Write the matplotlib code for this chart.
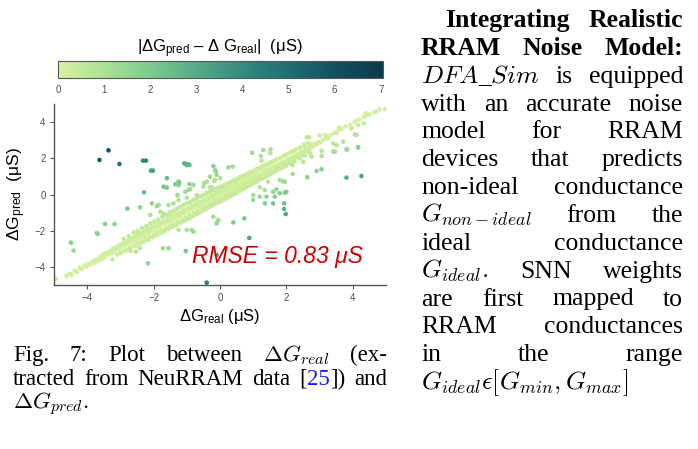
import numpy as np
import matplotlib
matplotlib.use("Agg")
import matplotlib.pyplot as plt
from matplotlib.colors import LinearSegmentedColormap, Normalize
from matplotlib.transforms import IdentityTransform

plt.rcParams["mathtext.fontset"] = "cm"
plt.rcParams["mathtext.rm"] = "Liberation Sans"
plt.rcParams["mathtext.it"] = "Liberation Sans:italic"
plt.rcParams["mathtext.bf"] = "Liberation Sans:bold"

W, H = 698, 449

# (dG_real, dG_pred), in uS
band = [(-4.95, -4.67), (-4.62, -4.50), (-4.52, -4.38), (-4.47, -4.45), (-4.38, -4.22), (-4.30, -4.28),
        (-4.22, -4.05), (-4.16, -4.12), (-4.08, -3.92), (-4.02, -4.00), (-3.96, -3.82), (-3.90, -3.88),
        (-3.84, -3.70), (-3.78, -3.78), (-3.72, -3.58), (-3.66, -3.66), (-3.60, -3.42), (-3.55, -3.55),
        (-3.50, -3.30), (-3.45, -3.44), (-3.40, -3.20), (-3.35, -3.32), (-3.30, -3.12), (-3.26, -3.25),
        (-3.22, -2.98), (-3.16, -3.10), (-3.12, -2.90), (-3.06, -3.02), (-3.02, -2.80), (-2.97, -2.92),
        (-2.92, -2.70), (-2.88, -2.85), (-2.83, -2.62), (-2.78, -2.74), (-2.74, -2.52), (-2.70, -2.66),
        (-2.65, -2.40), (-2.60, -2.58), (-2.56, -2.35), (-2.52, -2.48), (-2.47, -2.22), (-2.42, -2.40),
        (-2.38, -2.15), (-2.33, -2.30), (-2.29, -2.05), (-2.24, -2.22), (-2.20, -1.95), (-2.15, -2.12),
        (-2.11, -1.88), (-2.06, -2.02), (-2.02, -1.78), (-1.97, -1.95), (-1.93, -1.70), (-1.88, -1.86),
        (-1.84, -1.60), (-1.80, -1.78), (-1.75, -1.52), (-1.71, -1.68), (-1.66, -1.45), (-1.62, -1.60),
        (-1.58, -1.36), (-1.53, -1.50), (-1.49, -1.28), (-1.44, -1.42), (-1.40, -1.20), (-1.36, -1.32),
        (-1.31, -1.10), (-1.27, -1.24), (-1.22, -1.02), (-1.18, -1.15), (-1.14, -0.94), (-1.09, -1.05),
        (-1.05, -0.86), (-1.00, -0.97), (-0.96, -0.78), (-0.92, -0.88), (-0.87, -0.70), (-0.83, -0.80),
        (-0.78, -0.62), (-0.74, -0.72), (-0.70, -0.55), (-0.65, -0.64), (-0.61, -0.47), (-0.56, -0.56),
        (-0.52, -0.40), (-0.48, -0.48), (-0.43, -0.32), (-0.39, -0.40), (-0.34, -0.24), (-0.30, -0.32),
        (-0.26, -0.16), (-0.21, -0.24), (-0.17, -0.08), (-0.12, -0.16), (-0.08, 0.00), (-0.04, -0.08),
        (0.01, 0.08), (0.05, 0.00), (0.10, 0.16), (0.14, 0.08), (0.18, 0.24), (0.23, 0.16), (0.27, 0.32),
        (0.32, 0.24), (0.36, 0.40), (0.40, 0.32), (0.45, 0.48), (0.49, 0.40), (0.54, 0.56), (0.58, 0.48),
        (0.62, 0.64), (0.67, 0.56), (0.71, 0.72), (0.76, 0.64), (0.80, 0.80), (0.84, 0.72), (0.89, 0.88),
        (0.93, 0.80), (0.98, 0.96), (1.02, 0.88), (1.06, 1.04), (1.11, 0.96), (1.15, 1.12), (1.20, 1.04),
        (1.24, 1.20), (1.28, 1.12), (1.33, 1.28), (1.37, 1.20), (1.42, 1.36), (1.46, 1.28), (1.50, 1.44),
        (1.55, 1.36), (1.59, 1.52), (1.64, 1.44), (1.68, 1.60), (1.72, 1.52), (1.77, 1.68), (1.81, 1.60),
        (1.86, 1.76), (1.90, 1.68), (1.94, 1.84), (1.99, 1.76), (2.03, 1.92), (2.08, 1.84), (2.12, 2.00),
        (2.16, 1.92), (2.21, 2.10), (2.25, 2.02), (2.30, 2.18), (2.34, 2.10), (2.38, 2.26), (2.43, 2.20),
        (2.47, 2.36), (2.52, 2.30), (2.56, 2.46), (2.60, 2.40), (2.65, 2.56), (2.69, 2.50), (2.74, 2.68),
        (2.78, 2.62), (2.84, 2.80), (2.90, 2.75), (2.96, 2.92), (3.02, 2.88), (3.10, 3.02), (3.18, 3.10),
        (3.26, 3.22), (3.35, 3.30), (3.45, 3.42), (3.55, 3.50), (3.66, 3.62), (3.78, 3.76), (3.92, 3.85),
        (4.05, 4.00), (4.20, 4.15), (4.34, 4.30), (4.50, 4.42), (4.65, 4.55), (4.80, 4.70)]

band_mid_up = [(-3.00, -2.78), (-2.88, -2.66), (-2.76, -2.55), (-2.64, -2.42), (-2.52, -2.30), (-2.40, -2.20),
               (-2.28, -2.06), (-2.16, -1.95), (-2.04, -1.82), (-1.92, -1.70), (-1.80, -1.60), (-1.68, -1.46),
               (-1.56, -1.35), (-1.44, -1.22), (-1.32, -1.10), (-1.20, -1.00), (-1.08, -0.86), (-0.96, -0.75),
               (-0.84, -0.62), (-0.72, -0.50), (-0.60, -0.40), (-0.48, -0.26), (-0.36, -0.15), (-0.24, -0.02),
               (-0.12, 0.10), (0.00, 0.20), (0.12, 0.34), (0.24, 0.45), (0.36, 0.58), (0.48, 0.70),
               (0.60, 0.80), (0.72, 0.94), (0.84, 1.05), (0.96, 1.18), (1.08, 1.30), (1.20, 1.40),
               (1.32, 1.54), (1.44, 1.65), (1.56, 1.78), (1.68, 1.90), (1.80, 2.00), (1.92, 2.14),
               (2.04, 2.25), (2.16, 2.38), (2.28, 2.50), (2.40, 2.60), (2.52, 2.74), (2.64, 2.85)]

band_mid_low = [(-3.10, -3.32), (-2.97, -3.20), (-2.84, -3.08), (-2.72, -2.95), (-2.60, -2.82), (-2.48, -2.72),
                (-2.36, -2.60), (-2.24, -2.46), (-2.12, -2.36), (-2.00, -2.24), (-1.88, -2.10), (-1.76, -2.00),
                (-1.64, -1.88), (-1.52, -1.74), (-1.40, -1.64), (-1.28, -1.50), (-1.16, -1.40), (-1.04, -1.28),
                (-0.92, -1.14), (-0.80, -1.04), (-0.68, -0.92), (-0.56, -0.78), (-0.44, -0.68), (-0.32, -0.56),
                (-0.20, -0.42), (-0.08, -0.32), (0.04, -0.20), (0.16, -0.06), (0.28, 0.04), (0.40, 0.18),
                (0.52, 0.28), (0.64, 0.42), (0.76, 0.52), (0.88, 0.66), (1.00, 0.76), (1.12, 0.90),
                (1.24, 1.00), (1.36, 1.14), (1.48, 1.24), (1.60, 1.38), (1.72, 1.48), (1.84, 1.62),
                (1.96, 1.72), (2.08, 1.86), (2.20, 1.96), (2.32, 2.10), (2.44, 2.20), (2.56, 2.34)]

band_upper = [(-2.90, -2.45), (-2.75, -2.30), (-2.60, -2.10), (-2.48, -2.02), (-2.35, -1.85), (-2.22, -1.75),
              (-2.10, -1.60), (-1.98, -1.50), (-1.86, -1.38), (-1.74, -1.22), (-1.62, -1.12), (-1.50, -0.98),
              (-1.40, -0.90), (-1.30, -0.80), (-1.20, -0.68), (-1.10, -0.60), (-1.00, -0.48), (-0.90, -0.42),
              (-0.80, -0.30), (-0.70, -0.22), (-0.60, -0.10), (-0.50, -0.02), (-0.40, 0.08), (-0.30, 0.16),
              (-0.20, 0.26), (-0.10, 0.34), (0.00, 0.42), (0.10, 0.50), (0.20, 0.60), (0.30, 0.68),
              (0.40, 0.78), (0.50, 0.86), (0.60, 0.95), (0.70, 1.04), (0.80, 1.12), (0.90, 1.22),
              (1.00, 1.30), (1.10, 1.40), (1.20, 1.48), (1.30, 1.58), (1.40, 1.66), (1.50, 1.76),
              (1.60, 1.84), (1.70, 1.94), (1.80, 2.02), (1.90, 2.12), (2.00, 2.20), (2.12, 2.32),
              (2.25, 2.42), (2.40, 2.55), (2.55, 2.68), (2.70, 2.82)]

band_lower = [(-3.00, -3.25), (-2.85, -3.10), (-2.70, -3.00), (-2.55, -2.85), (-2.40, -2.70), (-2.28, -2.58),
              (-2.15, -2.50), (-2.02, -2.35), (-1.90, -2.25), (-1.78, -2.12), (-1.66, -2.02), (-1.55, -1.90),
              (-1.44, -1.80), (-1.32, -1.70), (-1.20, -1.58), (-1.10, -1.48), (-1.00, -1.38), (-0.90, -1.28),
              (-0.80, -1.18), (-0.70, -1.08), (-0.60, -0.98), (-0.50, -0.88), (-0.40, -0.78), (-0.30, -0.68),
              (-0.20, -0.58), (-0.10, -0.48), (0.00, -0.40), (0.10, -0.30), (0.20, -0.20), (0.30, -0.10),
              (0.40, 0.00), (0.50, 0.10), (0.60, 0.20), (0.70, 0.30), (0.80, 0.40), (0.90, 0.50),
              (1.00, 0.60), (1.10, 0.70), (1.20, 0.80), (1.30, 0.90), (1.40, 1.00), (1.50, 1.10),
              (1.60, 1.20), (1.70, 1.30), (1.80, 1.42), (1.90, 1.50), (2.00, 1.60), (2.12, 1.72),
              (2.25, 1.86), (2.40, 2.00), (2.55, 2.15), (2.70, 2.30)]

spread = [(-2.41, -0.71), (-2.05, -0.49), (-1.85, -0.58), (-3.24, -3.58), (-2.69, -3.12), (-2.53, -3.16),
          (-2.41, -2.97), (-2.46, -2.70), (-1.03, -3.12), (-1.80, -0.95), (-1.71, -1.04), (-1.50, -1.13),
          (-2.10, -1.13), (-1.55, -0.58), (-1.40, -0.49), (-1.25, -0.30), (-0.80, -2.05), (-1.00, -1.96),
          (-1.25, -1.96), (-0.10, -1.60), (-0.20, -1.23), (1.95, 0.10), (1.60, -0.49), (1.35, -0.49),
          (1.65, -0.12), (1.40, -0.12), (1.20, -0.12), (-0.05, -1.41), (1.00, -0.30), (1.00, -0.03),
          (0.97, 2.31), (1.23, 2.13), (1.52, 2.50), (1.52, 2.28), (1.25, 1.87), (2.61, 3.16), (2.68, 3.16),
          (3.00, 3.25), (3.16, 3.29), (3.26, 3.10), (3.51, 3.41), (3.61, 3.69), (3.96, 3.66), (4.16, 3.84),
          (4.08, 4.06), (4.33, 3.93), (4.39, 4.49), (4.41, 4.39), (4.69, 4.57), (4.98, 4.72), (4.11, 3.29),
          (3.81, 2.50), (4.16, 2.59), (3.41, 2.83), (3.51, 2.73), (3.71, 2.92), (3.46, 2.37), (3.06, 2.42),
          (3.06, 2.13), (2.76, 2.09), (2.51, 1.81), (2.91, 1.30), (3.06, 1.39), (2.19, 1.13), (1.95, 0.71),
          (1.80, 0.80), (1.70, 0.29), (1.60, 0.15), (1.35, 0.25), (-0.20, 1.57), (-0.12, 1.26), (0.25, 1.50),
          (0.38, 1.54), (-0.30, 0.98), (-0.15, 0.80), (0.00, 0.90), (-0.25, 0.40), (0.95, 0.62), (1.20, 0.40),
          (1.45, 0.71), (1.80, 0.07), (2.00, 0.15), (-1.60, 0.38), (-1.35, 0.56), (-1.23, 0.65), (-1.25, 0.52),
          (-0.92, 0.58), (-0.80, 0.52), (-0.95, 0.25), (-0.90, 0.29), (-1.28, -0.03), (-1.00, -0.18),
          (-0.70, -0.03), (-0.48, 0.62), (-0.40, 0.71), (-0.17, 0.75), (-0.50, 0.43), (-0.30, 0.40),
          (-1.90, -0.64), (-1.05, 0.15), (-0.85, -1.96), (0.40, -1.54), (0.73, -1.32), (0.88, -2.40),
          (-1.60, 0.90), (-1.70, 0.43), (-1.25, 0.71), (1.30, 2.46), (-0.15, 1.35), (-0.10, 1.08)]

outliers = [(-3.63, 1.91), (-3.36, 2.44), (-3.03, 1.69), (-2.32, 1.87), (-2.23, 1.87), (-2.08, 1.32),
            (-2.02, 1.32), (-1.08, 1.72), (-1.00, 1.63), (-0.92, 1.63), (-1.02, 1.69), (-0.95, 1.66),
            (-2.29, 0.12), (-2.79, -0.78), (-3.46, -1.63), (-3.18, -1.63), (-3.71, -2.13), (-3.68, -2.18),
            (-4.49, -2.66), (-4.41, -3.10), (-2.17, -3.80), (-0.40, -4.87), (-1.72, -2.97), (-1.55, -2.97),
            (-0.10, -3.34), (3.81, 0.93), (4.26, 1.02), (1.93, -0.49), (1.93, -0.80), (1.98, -1.08),
            (1.90, 0.73), (2.63, 0.95), (2.19, 1.63), (4.16, 2.62), (3.83, 2.48), (3.41, 2.37),
            (4.06, 3.31), (3.96, 3.64), (3.58, 3.69)]

ticks_xy = [-4, -2, 0, 2, 4]
cbar_ticks = [0, 1, 2, 3, 4, 5, 6, 7]
cbar_max = 7.05
rmse_text = "RMSE = 0.83 μS"

pts = np.array(band + band_mid_up + band_mid_low + band_upper + band_lower + spread + outliers)
dg_real, dg_pred = pts[:, 0], pts[:, 1]
err = np.abs(dg_pred - dg_real)
order = np.argsort(err)

cmap = LinearSegmentedColormap.from_list(
    "gn", ["#d7f19f", "#b0e398", "#86d08f", "#62b789", "#449a83",
           "#2a7f7b", "#1c6570", "#124c5e", "#0b3b4c"])

fig = plt.figure(figsize=(W / 100, H / 100), dpi=100)


def px_box(x0, y0, x1, y1):
    return [x0 / W, 1 - y1 / H, (x1 - x0) / W, (y1 - y0) / H]


ax = fig.add_axes(px_box(54, 104, 386, 285))
sc = ax.scatter(dg_real[order], dg_pred[order], c=err[order], cmap=cmap,
                norm=Normalize(0, cbar_max), s=11, linewidths=0)
ax.set_xlim(-5, 5)
ax.set_ylim(-5, 5)
ax.set_xticks(ticks_xy)
ax.set_yticks(ticks_xy)
for s in ["top", "right"]:
    ax.spines[s].set_visible(False)
for s in ["left", "bottom"]:
    ax.spines[s].set_color("#555555")
    ax.spines[s].set_linewidth(1.0)
ax.tick_params(length=3, width=0.8, color="#555555", labelsize=7,
               labelcolor="#4d4d4d", pad=3)
for lab in ax.get_xticklabels() + ax.get_yticklabels():
    lab.set_family("Liberation Sans")

ax.set_xlabel(r"ΔG$_{\mathrm{real}}$ (μS)", fontsize=12, family="Liberation Sans",
              math_fontfamily="custom", labelpad=3)
ax.set_ylabel(r"ΔG$_{\mathrm{pred}}$  (μS)", fontsize=12.5, family="Liberation Sans",
              math_fontfamily="custom", labelpad=5)
ax.text(0.672, 0.155, rmse_text, transform=ax.transAxes, ha="center", va="center",
        fontsize=16.5, style="italic", color="#cc0000", family="Liberation Sans")

cax = fig.add_axes(px_box(58, 61, 383, 78))
cb = fig.colorbar(sc, cax=cax, orientation="horizontal")
cb.set_ticks(cbar_ticks)
cb.outline.set_edgecolor("#555555")
cb.outline.set_linewidth(0.8)
cax.tick_params(length=0, labelsize=7, labelcolor="#4d4d4d", pad=5)
for lab in cax.get_xticklabels():
    lab.set_family("Liberation Sans")
fig.text(220 / W, 1 - 49 / H, r"|ΔG$_{\mathrm{pred}}$ – Δ G$_{\mathrm{real}}$|  (μS)",
         ha="center", va="center", fontsize=12, family="Liberation Sans",
         math_fontfamily="custom")

# ---- paper text around the figure ----
renderer = fig.canvas.get_renderer()


def put_line(words, x0, x1, y, size, justify=True, weight="normal"):
    groups = []
    for w in words:
        segs = w if isinstance(w, list) else [(w, "black")]
        objs = []
        for s, c in segs:
            t = fig.text(0, 0, s, fontsize=size, color=c, weight=weight,
                         family="Liberation Serif", math_fontfamily="cm",
                         va="baseline", ha="left", transform=IdentityTransform())
            objs.append((t, t.get_window_extent(renderer).width))
        groups.append(objs)
    widths = [sum(w for _, w in g) for g in groups]
    if justify and len(groups) > 1:
        gap = (x1 - x0 - sum(widths)) / (len(groups) - 1)
    else:
        gap = size * 0.25 * 100 / 72
    x = x0
    for g, gw in zip(groups, widths):
        for t, w in g:
            t.set_position((x, H - y))
            x += w
        x += gap


cap = 16.5
put_line(["Fig.", "7:", "Plot", "between", r"$\Delta G_{real}$", "(ex-"], 13, 387, 361, cap)
put_line(["tracted", "from", "NeuRRAM", "data",
          [("[", "black"), ("25", "#1a1aff"), ("])", "black")], "and"], 13, 387, 385, cap)
put_line([r"$\Delta G_{pred}.$"], 13, 387, 409, cap, justify=False)

body = 18.5
lines = [
    (["Integrating", "Realistic"], 445, True, "bold"),
    (["RRAM", "Noise", "Model:"], 421, True, "bold"),
    ([r"$DFA$_$Sim$", "is", "equipped"], 421, True, "normal"),
    (["with", "an", "accurate", "noise"], 421, True, "normal"),
    (["model", "for", "RRAM"], 421, True, "normal"),
    (["devices", "that", "predicts"], 421, True, "normal"),
    (["non-ideal", "conductance"], 421, True, "normal"),
    ([r"$G_{non-ideal}$", "from", "the"], 421, True, "normal"),
    (["ideal", "conductance"], 421, True, "normal"),
    ([r"$G_{ideal}.$", "SNN", "weights"], 421, True, "normal"),
    (["are", "first", "mapped", "to"], 421, True, "normal"),
    (["RRAM", "conductances"], 421, True, "normal"),
    (["in", "the", "range"], 421, True, "normal"),
    ([r"$G_{ideal}\epsilon[G_{min},G_{max}]$"], 421, False, "normal"),
]
for i, (words, x0, just, wt) in enumerate(lines):
    put_line(words, x0, 683, 27 + i * 27.85, body, justify=just, weight=wt)

fig.savefig("out.png", dpi=100)
